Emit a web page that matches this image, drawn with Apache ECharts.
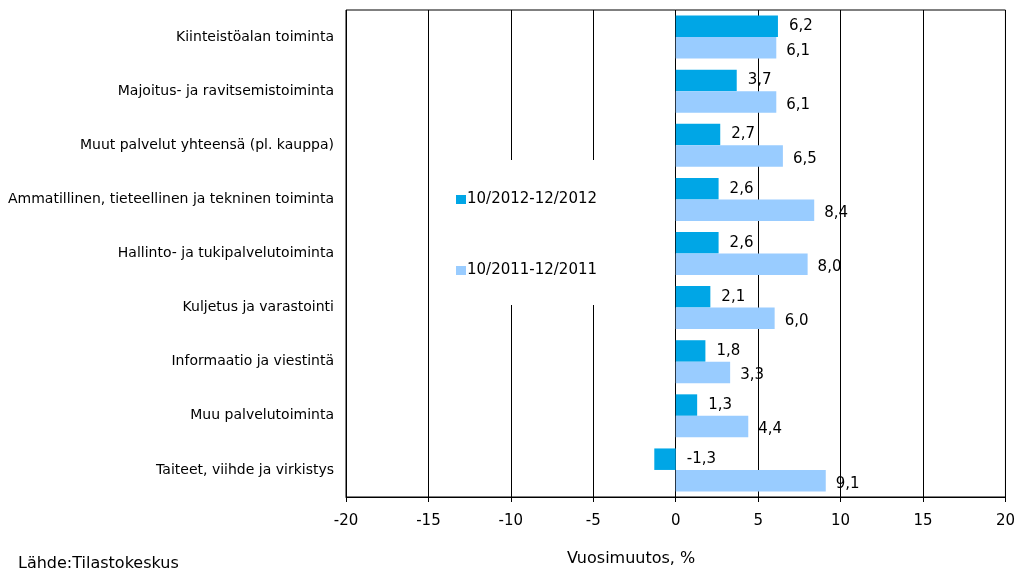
<!DOCTYPE html>
<html>
<head>
<meta charset="utf-8">
<script src="https://cdn.jsdelivr.net/npm/echarts@6/dist/echarts.min.js"></script>
<style>html,body{margin:0;padding:0;background:#fff;}#c{width:1018px;height:569px;}</style>
</head>
<body>
<div id="c"></div>
<script>
const categories = [
  "Kiinteistöalan toiminta",
  "Majoitus- ja ravitsemistoiminta",
  "Muut palvelut yhteensä (pl. kauppa)",
  "Ammatillinen, tieteellinen ja tekninen toiminta",
  "Hallinto- ja tukipalvelutoiminta",
  "Kuljetus ja varastointi",
  "Informaatio ja viestintä",
  "Muu palvelutoiminta",
  "Taiteet, viihde ja virkistys"
];
const seriesNames = ["10/2012-12/2012", "10/2011-12/2011"];
const values2012 = [6.2, 3.7, 2.7, 2.6, 2.6, 2.1, 1.8, 1.3, -1.3];
const values2011 = [6.1, 6.1, 6.5, 8.4, 8.0, 6.0, 3.3, 4.4, 9.1];
const xTicks = { min: -20, max: 20, interval: 5 };

const FONT = "DejaVu Sans";
const fmt = p => p.value.toFixed(1).replace('.', ',');
const chart = echarts.init(document.getElementById('c'));
chart.setOption({
  animation: false,
  backgroundColor: '#fff',
  grid: { left: 346, right: 10, top: 10, bottom: 72, show: true, borderColor: '#000', borderWidth: 1, containLabel: false },
  legend: {
    orient: 'vertical',
    left: 431, top: 160,
    backgroundColor: '#fff',
    padding: [32, 75, 27, 25],
    itemGap: 56,
    itemWidth: 10, itemHeight: 9,
    icon: 'rect',
    textStyle: { fontFamily: FONT, fontSize: 15, color: '#000', padding: [0, 0, 0, -4] },
    data: seriesNames
  },
  xAxis: {
    type: 'value', min: xTicks.min, max: xTicks.max, interval: xTicks.interval,
    axisLine: { show: true, lineStyle: { color: '#000', width: 1 } },
    axisTick: { show: true, length: 5, lineStyle: { color: '#000' } },
    axisLabel: { fontFamily: FONT, fontSize: 15, color: '#000', margin: 17 },
    splitLine: { show: true, lineStyle: { color: '#000', width: 1 } }
  },
  yAxis: {
    type: 'category', data: categories, inverse: true,
    axisLine: { show: false }, axisTick: { show: false },
    axisLabel: { fontFamily: FONT, fontSize: 14, color: '#000', margin: 12 }
  },
  graphic: [
    { type: 'text', left: 567, top: 551, style: { text: 'Vuosimuutos, %', font: '16px "DejaVu Sans"', fill: '#000' } },
    { type: 'text', left: 18, top: 556, style: { text: 'Lähde:Tilastokeskus', font: '16px "DejaVu Sans"', fill: '#000' } }
  ],
  series: [
    {
      name: seriesNames[0], type: 'bar', data: values2012, barWidth: 21.5, barGap: '0%',
      itemStyle: { color: '#00A6E6' },
      label: { show: true, position: 'right', distance: 11, formatter: fmt, fontFamily: FONT, fontSize: 15, color: '#000' },
      z: 3
    },
    {
      name: seriesNames[1], type: 'bar', data: values2011, barWidth: 21.5, barGap: '0%',
      itemStyle: { color: '#99CCFF' },
      label: { show: true, position: 'right', distance: 10, formatter: fmt, fontFamily: FONT, fontSize: 15, color: '#000', offset: [0, 3] },
      z: 3
    }
  ]
});
</script>
</body>
</html>
